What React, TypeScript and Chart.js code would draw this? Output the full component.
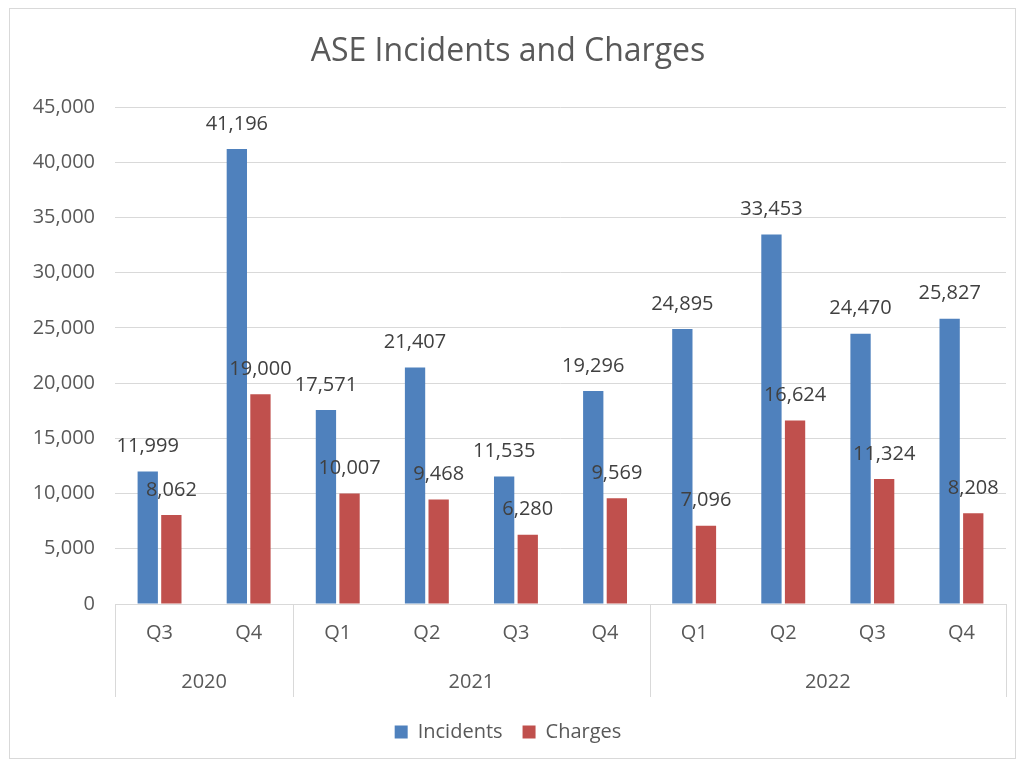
import React, { useEffect, useRef } from "react";
import { Chart, registerables } from "chart.js";

Chart.register(...registerables);

const quarters = ["Q3", "Q4", "Q1", "Q2", "Q3", "Q4", "Q1", "Q2", "Q3", "Q4"];
const years = ["2020", "2021", "2022"];
const yearSpans = [2, 4, 4];
const incidents = [11999, 41196, 17571, 21407, 11535, 19296, 24895, 33453, 24470, 25827];
const charges = [8062, 19000, 10007, 9468, 6280, 9569, 7096, 16624, 11324, 8208];
const yTicks = [0, 5000, 10000, 15000, 20000, 25000, 30000, 35000, 40000, 45000];

const FONT = "'Open Sans', 'Noto Sans', sans-serif";
const TEXT = "#595959";
const GRID = "#d9d9d9";

const fmt = (v: number) => v.toLocaleString("en-US");

const extrasPlugin = {
  id: "extras",
  beforeDraw(chart: any) {
    const ctx = chart.ctx;
    ctx.save();
    ctx.fillStyle = "#ffffff";
    ctx.fillRect(0, 0, chart.width, chart.height);
    ctx.strokeStyle = GRID;
    ctx.lineWidth = 1;
    ctx.strokeRect(9.5, 8.5, 1006, 750);
    ctx.restore();
  },
  afterDraw(chart: any) {
    const ctx = chart.ctx;
    const x = chart.scales.x;
    const area = chart.chartArea;
    const catW = (area.right - area.left) / quarters.length;
    ctx.save();
    ctx.strokeStyle = GRID;
    ctx.lineWidth = 1;
    let idx = 0;
    const bounds: number[] = [x.getPixelForValue(0) - catW / 2];
    yearSpans.forEach((s) => {
      idx += s;
      bounds.push(x.getPixelForValue(idx - 1) + catW / 2);
    });
    bounds.forEach((b) => {
      const px = Math.round(b) + 0.5;
      ctx.beginPath();
      ctx.moveTo(px, area.bottom);
      ctx.lineTo(px, area.bottom + 93);
      ctx.stroke();
    });
    ctx.fillStyle = TEXT;
    ctx.font = `20px ${FONT}`;
    ctx.textAlign = "center";
    ctx.textBaseline = "middle";
    years.forEach((y, i) => {
      ctx.fillText(y, (bounds[i] + bounds[i + 1]) / 2, area.bottom + 78);
    });
    ctx.restore();
  },
  afterDatasetsDraw(chart: any) {
    const ctx = chart.ctx;
    ctx.save();
    ctx.fillStyle = "#404040";
    ctx.font = `20px ${FONT}`;
    ctx.textAlign = "center";
    ctx.textBaseline = "middle";
    chart.data.datasets.forEach((ds: any, di: number) => {
      const meta = chart.getDatasetMeta(di);
      meta.data.forEach((el: any, i: number) => {
        ctx.fillText(fmt(ds.data[i]), el.x, el.y - 25);
      });
    });
    ctx.restore();
  },
};

export default function App() {
  const ref = useRef<HTMLCanvasElement | null>(null);
  useEffect(() => {
    if (!ref.current) return;
    const chart = new Chart(ref.current, {
      type: "bar",
      data: {
        labels: quarters,
        datasets: [
          {
            label: "Incidents",
            data: incidents,
            backgroundColor: "#4F81BD",
            categoryPercentage: 0.53,
            barPercentage: 0.86,
          },
          {
            label: "Charges",
            data: charges,
            backgroundColor: "#C0504D",
            categoryPercentage: 0.53,
            barPercentage: 0.86,
          },
        ],
      },
      options: {
        responsive: false,
        animation: false,
        layout: { padding: { left: 10, right: 17, top: 0, bottom: 13 } },
        plugins: {
          title: {
            display: true,
            text: "ASE Incidents and Charges",
            color: TEXT,
            font: { family: FONT, size: 32, weight: "normal" },
            padding: { top: 33, bottom: 35.6 },
          },
          legend: {
            position: "bottom",
            labels: {
              color: TEXT,
              font: { family: FONT, size: 20 },
              boxWidth: 13,
              boxHeight: 13,
              padding: 20,
            },
          },
          tooltip: { enabled: false },
        },
        scales: {
          x: {
            grid: { display: false },
            border: { display: true, color: GRID },
            ticks: { color: TEXT, font: { family: FONT, size: 20 }, padding: 9 },
            afterFit: (s: any) => {
              s.height = 98;
            },
          },
          y: {
            min: 0,
            max: 45000,
            afterBuildTicks: (s: any) => {
              s.ticks = yTicks.map((v) => ({ value: v }));
            },
            grid: { color: GRID, drawTicks: false },
            border: { display: false },
            ticks: {
              color: TEXT,
              font: { family: FONT, size: 20 },
              padding: 20,
              callback: (v: any) => fmt(Number(v)),
            },
            afterFit: (s: any) => {
              s.width = 105;
            },
          },
        },
      },
      plugins: [extrasPlugin],
    });
    return () => chart.destroy();
  }, []);
  return (
    <div style={{ position: "fixed", left: 0, top: 0, width: 1023, height: 765, background: "#fff" }}>
      <canvas ref={ref} width={1023} height={765} style={{ width: 1023, height: 765 }} />
    </div>
  );
}
